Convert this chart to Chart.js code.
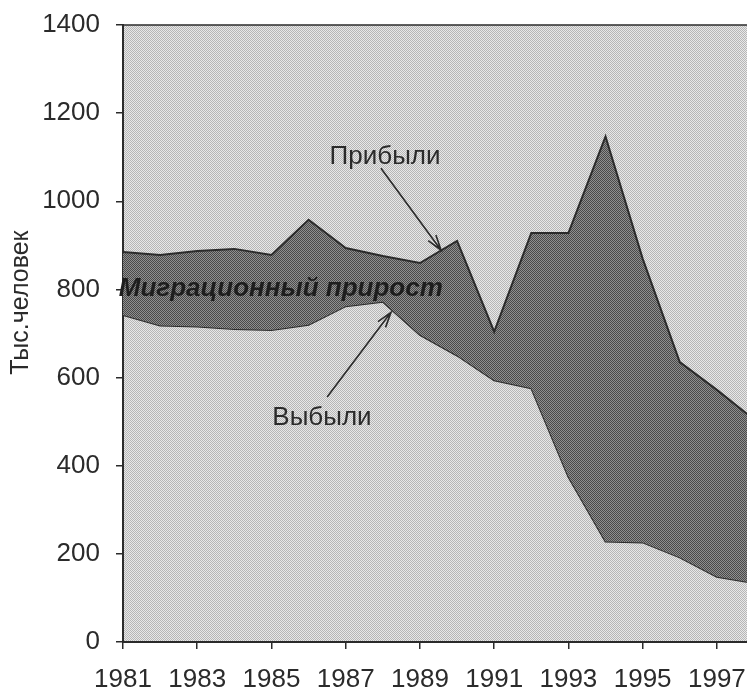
<!DOCTYPE html>
<html>
<head>
<meta charset="utf-8">
<script src="https://cdn.jsdelivr.net/npm/chart.js@4/dist/chart.umd.min.js"></script>
<style>
  html, body { margin: 0; padding: 0; background: #fff; overflow: hidden; }
  #wrap { width: 762px; height: 695px; }
</style>
</head>
<body>
<div id="wrap"><canvas id="migrationChart" width="762" height="695"></canvas></div>
<script>
// data (thousand people)
const years = [1981, 1982, 1983, 1984, 1985, 1986, 1987, 1988, 1989, 1990, 1991, 1992, 1993, 1994, 1995, 1996, 1997, 1998];
const arrivals = [885, 878, 887, 892, 878, 958, 894, 876, 860, 910, 704, 928, 928, 1147, 870, 635, 572, 505];
const departures = [742, 718, 716, 710, 708, 720, 762, 772, 697, 650, 594, 576, 375, 228, 226, 192, 148, 134];
const yearTicks = [1981, 1983, 1985, 1987, 1989, 1991, 1993, 1995, 1997];
const valueTicks = [0, 200, 400, 600, 800, 1000, 1200, 1400];

const FONT = 'Liberation Sans, Arial, sans-serif';
const INK = '#2b2b2b';

// stipple patterns like the scanned halftone
function makePattern(a, b) {
  const tile = document.createElement('canvas');
  tile.width = 2; tile.height = 2;
  const t = tile.getContext('2d');
  t.fillStyle = b; t.fillRect(0, 0, 2, 2);
  t.fillStyle = a; t.fillRect(0, 0, 1, 1); t.fillRect(1, 1, 1, 1);
  return t.createPattern(tile, 'repeat');
}
const lightPattern = makePattern('#b6b6b6', '#e8e8e8');
const darkPattern = makePattern('#4a4a4a', '#909090');

const plotBackground = {
  id: 'plotBackground',
  beforeDraw(chart) {
    const { ctx, chartArea: a } = chart;
    ctx.save();
    ctx.fillStyle = lightPattern;
    ctx.fillRect(a.left, a.top, a.right - a.left, a.bottom - a.top);
    ctx.strokeStyle = INK;
    ctx.lineWidth = 1.5;
    ctx.beginPath();
    ctx.moveTo(a.left, a.top);
    ctx.lineTo(a.right, a.top);
    ctx.stroke();
    ctx.restore();
  }
};

function arrow(ctx, x1, y1, x2, y2) {
  const ang = Math.atan2(y2 - y1, x2 - x1);
  const len = 16, spread = 0.3;
  ctx.beginPath();
  ctx.moveTo(x1, y1);
  ctx.lineTo(x2, y2);
  ctx.moveTo(x2 - len * Math.cos(ang - spread), y2 - len * Math.sin(ang - spread));
  ctx.lineTo(x2, y2);
  ctx.lineTo(x2 - len * Math.cos(ang + spread), y2 - len * Math.sin(ang + spread));
  ctx.stroke();
}

const notes = {
  id: 'notes',
  afterDatasetsDraw(chart) {
    const { ctx, scales: { x, y } } = chart;
    const px = v => x.getPixelForValue(v);
    const py = v => y.getPixelForValue(v);
    ctx.save();
    ctx.fillStyle = INK;
    ctx.strokeStyle = INK;
    ctx.lineWidth = 1.6;
    ctx.textAlign = 'center';
    ctx.textBaseline = 'middle';

    ctx.font = '26px ' + FONT;
    ctx.fillText('Прибыли', px(1988.06), py(1100));
    arrow(ctx, px(1987.95), py(1075), px(1989.57), py(889));

    ctx.fillText('Выбыли', px(1986.36), py(508));
    arrow(ctx, px(1986.5), py(556), px(1988.22), py(748));

    ctx.font = 'italic bold 26px ' + FONT;
    ctx.fillStyle = '#1e1e1e';
    ctx.fillText('Миграционный прирост', px(1985.25), py(801));

    // axis title
    ctx.fillStyle = INK;
    ctx.font = '25px ' + FONT;
    ctx.translate(y.left + 21, py(770));
    ctx.rotate(-Math.PI / 2);
    ctx.fillText('Тыс.человек', 0, 0);
    ctx.restore();
  }
};

new Chart(document.getElementById('migrationChart'), {
  type: 'line',
  data: {
    datasets: [
      {
        label: 'Прибыли',
        data: years.map((yr, i) => ({ x: yr, y: arrivals[i] })),
        borderColor: INK,
        borderWidth: 2,
        backgroundColor: darkPattern,
        fill: '+1',
        pointRadius: 0,
        tension: 0
      },
      {
        label: 'Выбыли',
        data: years.map((yr, i) => ({ x: yr, y: departures[i] })),
        borderColor: INK,
        borderWidth: 2,
        fill: false,
        pointRadius: 0,
        tension: 0
      }
    ]
  },
  options: {
    responsive: false,
    animation: false,
    layout: { padding: { top: 25, right: 8, bottom: 0, left: 0 } },
    plugins: {
      legend: { display: false },
      tooltip: { enabled: false }
    },
    scales: {
      x: {
        type: 'linear',
        min: 1981,
        max: 1998,
        afterBuildTicks: s => { s.ticks = yearTicks.map(v => ({ value: v })); },
        afterFit: s => { s.height = 53; s.paddingLeft = 0; s.paddingRight = 0; },
        grid: { drawOnChartArea: false, tickLength: 7, color: INK, lineWidth: 1.5 },
        border: { color: INK, width: 2 },
        ticks: {
          padding: 15,
          maxRotation: 0,
          autoSkip: false,
          color: INK,
          font: { family: FONT, size: 26 },
          callback: v => String(v)
        }
      },
      y: {
        min: 0,
        max: 1400,
        afterBuildTicks: s => { s.ticks = valueTicks.map(v => ({ value: v })); },
        afterFit: s => { s.width = 123; s.paddingTop = 0; s.paddingBottom = 0; },
        grid: { drawOnChartArea: false, tickLength: 7, color: INK, lineWidth: 1.5 },
        border: { color: INK, width: 2 },
        ticks: {
          padding: 16,
          color: INK,
          font: { family: FONT, size: 26 },
          callback: v => String(v)
        }
      }
    }
  },
  plugins: [plotBackground, notes]
});
</script>
</body>
</html>
